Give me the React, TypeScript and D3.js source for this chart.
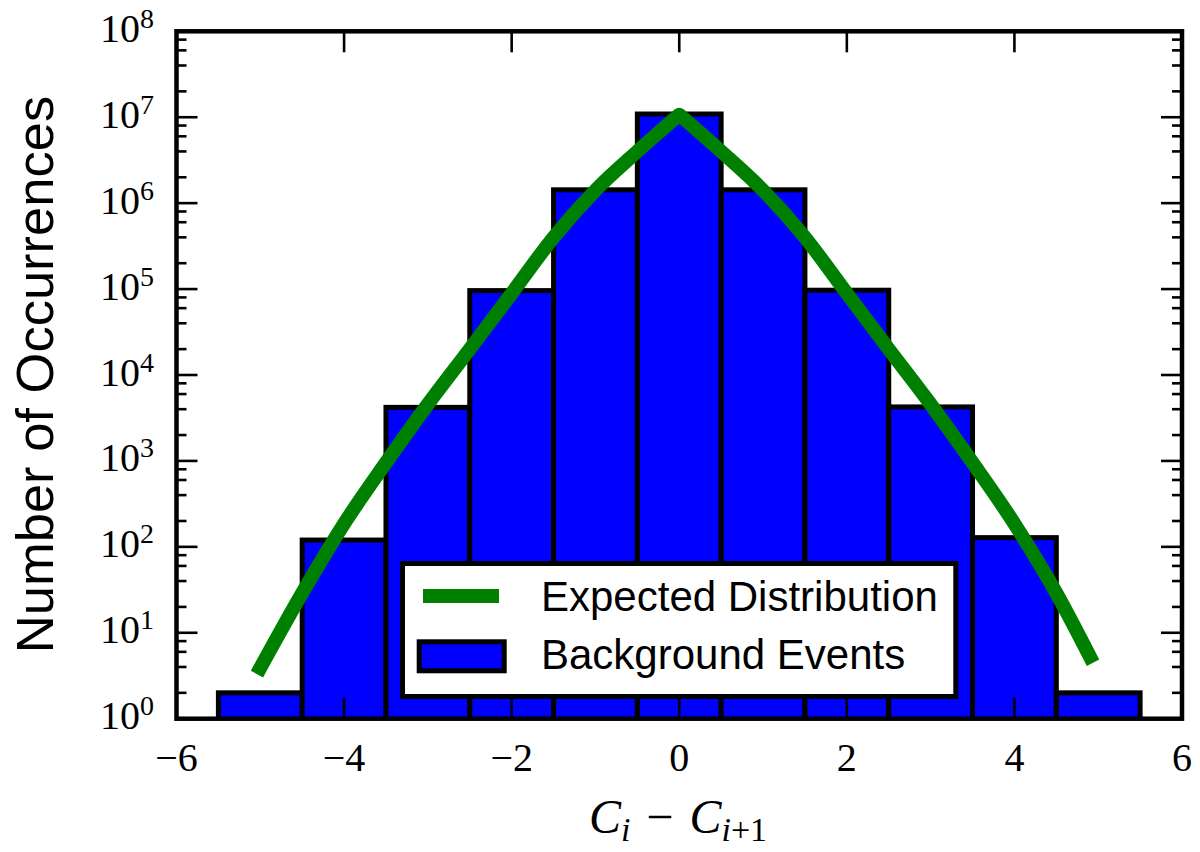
import React from "react";
import * as d3 from "d3";

// Histogram bins (centres) and counts
const binCenters = [-5, -4, -3, -2, -1, 0, 1, 2, 3, 4, 5];
const binCounts = [2, 120, 4200, 96000, 1430000, 10900000, 1430000, 97000, 4250, 128, 2];

// Expected distribution
const expectedX = [-5, -4.5, -4, -3.5, -3, -2.5, -2, -1.5, -1, -0.5, 0, 0.5, 1, 1.5, 2, 2.5, 3, 3.5, 4, 4.5, 4.9];
const expectedY = [3.9, 29, 186, 955, 4570, 20000, 89000, 400000, 1410000, 4000000, 10700000, 4000000, 1410000, 400000, 89000, 20000, 4570, 955, 186, 29, 5.3];

const xTicks = [-6, -4, -2, 0, 2, 4, 6];
const yDecades = [0, 1, 2, 3, 4, 5, 6, 7, 8];
const minorSubs = [2, 4, 6, 8];

const legendLabels = ["Expected Distribution", "Background Events"];

const W = 1200;
const H = 852;
const X0 = 176.5;
const X1 = 1182;
const Y0 = 31.3;
const Y1 = 718.7;

export default function App() {
  const x = d3.scaleLinear().domain([-6, 6]).range([X0, X1]);
  const y = d3.scaleLog().domain([1, 1e8]).range([Y1, Y0]);

  const pts: [number, number][] = expectedX.map((v, i) => [v, expectedY[i]]);
  const line = d3
    .line<[number, number]>()
    .x((d) => x(d[0]))
    .y((d) => y(d[1]))
    .curve(d3.curveMonotoneX);
  const peakIdx = expectedY.indexOf(Math.max(...expectedY));
  const leftD = line(pts.slice(0, peakIdx + 1)) || "";
  const rightD = (line(pts.slice(peakIdx)) || "").replace(/^M/, "L");
  const curveD = leftD + rightD;

  const tickFont = "'Liberation Serif', 'Times New Roman', serif";
  const sansFont = "'Liberation Sans', Arial, Helvetica, sans-serif";
  const majorLen = 21;
  const minorLen = 10;
  const tickW = 2.6;

  const minorVals: number[] = [];
  yDecades.slice(0, -1).forEach((d) => {
    minorSubs.forEach((s) => minorVals.push(s * Math.pow(10, d)));
  });

  return (
    <svg
      width={W}
      height={H}
      style={{ position: "absolute", left: 0, top: 0, background: "#fff" }}
    >
      <rect x={0} y={0} width={W} height={H} fill="#fff" />
      <defs>
        <clipPath id="plotClip">
          <rect x={X0} y={Y0} width={X1 - X0} height={Y1 - Y0} />
        </clipPath>
      </defs>

      {/* bars */}
      <g clipPath="url(#plotClip)">
        {binCenters.map((c, i) => {
          const left = x(c - 0.5);
          const right = x(c + 0.5);
          const top = y(binCounts[i]);
          return (
            <rect
              key={i}
              x={left}
              y={top}
              width={right - left}
              height={Y1 + 20 - top}
              fill="#0000ff"
              stroke="#000"
              strokeWidth={5}
            />
          );
        })}
        <path
          d={curveD}
          fill="none"
          stroke="#008000"
          strokeWidth={14}
          strokeLinejoin="round"
          strokeLinecap="square"
        />
      </g>

      {/* x ticks */}
      {xTicks.map((t) => (
        <g key={"xt" + t}>
          <line x1={x(t)} x2={x(t)} y1={Y1} y2={Y1 - majorLen} stroke="#000" strokeWidth={tickW} />
          <line x1={x(t)} x2={x(t)} y1={Y0} y2={Y0 + majorLen} stroke="#000" strokeWidth={tickW} />
          <text
            x={x(t)}
            y={771}
            textAnchor="middle"
            fontFamily={tickFont}
            fontSize={40}
            fill="#000"
          >
            {t < 0 ? "\u2212" + Math.abs(t) : String(t)}
          </text>
        </g>
      ))}

      {/* y ticks */}
      {yDecades.map((d) => {
        const py = y(Math.pow(10, d));
        return (
          <g key={"yt" + d}>
            <line x1={X0} x2={X0 + majorLen} y1={py} y2={py} stroke="#000" strokeWidth={tickW} />
            <line x1={X1} x2={X1 - majorLen} y1={py} y2={py} stroke="#000" strokeWidth={tickW} />
            <text
              x={154}
              y={py + 10.5}
              textAnchor="end"
              fontFamily={tickFont}
              fontSize={40}
              fill="#000"
            >
              10
              <tspan fontSize={28} dy={-14}>
                {String(d)}
              </tspan>
            </text>
          </g>
        );
      })}
      {minorVals.map((v, i) => {
        const py = y(v);
        return (
          <g key={"ym" + i}>
            <line x1={X0} x2={X0 + minorLen} y1={py} y2={py} stroke="#000" strokeWidth={tickW} />
            <line x1={X1} x2={X1 - minorLen} y1={py} y2={py} stroke="#000" strokeWidth={tickW} />
          </g>
        );
      })}

      {/* spines */}
      <rect
        x={X0}
        y={Y0}
        width={X1 - X0}
        height={Y1 - Y0}
        fill="none"
        stroke="#000"
        strokeWidth={4.5}
      />

      {/* legend */}
      <g>
        <rect x={402.5} y={563.5} width={553.3} height={133} fill="#fff" stroke="#000" strokeWidth={5} />
        <line x1={430} x2={492} y1={596} y2={596} stroke="#008000" strokeWidth={14} strokeLinecap="square" />
        <text x={541} y={610.5} fontFamily={sansFont} fontSize={42} fill="#000">
          {legendLabels[0]}
        </text>
        <rect x={419.2} y={641.8} width={85} height={29} fill="#0000ff" stroke="#000" strokeWidth={5} />
        <text x={541} y={669} fontFamily={sansFont} fontSize={42} fill="#000">
          {legendLabels[1]}
        </text>
      </g>

      {/* axis labels */}
      <text
        transform={`translate(52.5, 374.5) rotate(-90)`}
        textAnchor="middle"
        fontFamily={sansFont}
        fontSize={52.5}
        fill="#000"
      >
        Number of Occurrences
      </text>
      <text
        x={678}
        y={833}
        textAnchor="middle"
        fontFamily={tickFont}
        fontSize={48}
        fill="#000"
      >
        <tspan fontStyle="italic">C</tspan>
        <tspan fontStyle="italic" fontSize={34} dy={8}>i</tspan>
        <tspan dy={-8} dx={16}>{"\u2212"}</tspan>
        <tspan fontStyle="italic" dx={16}>C</tspan>
        <tspan fontStyle="italic" fontSize={34} dy={8}>i</tspan>
        <tspan fontSize={34}>+1</tspan>
      </text>
    </svg>
  );
}
